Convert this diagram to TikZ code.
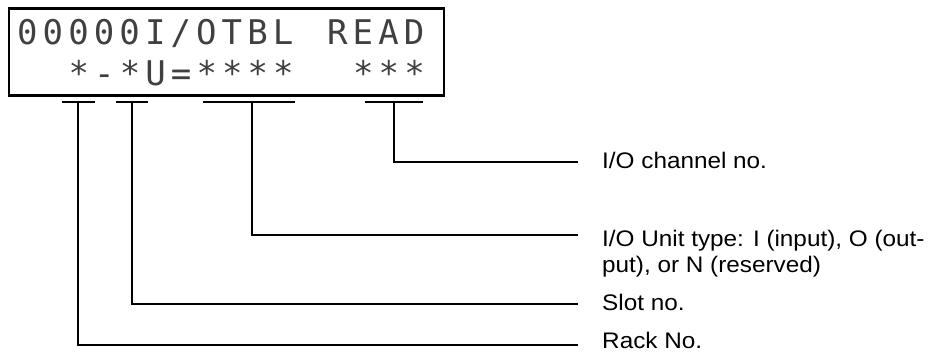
\documentclass[tikz,border=0pt]{standalone}
\usepackage{fontspec}
\setmainfont{Liberation Sans}
\newfontfamily\lblfont[FakeStretch=1.08]{Liberation Sans}
\newfontfamily\lcdfont[LetterSpace=15]{DejaVu Sans Mono}
\usetikzlibrary{positioning}

\begin{document}
\begin{tikzpicture}[
    x=1pt, y=-1pt,
    panel/.style={rectangle, draw=black, line width=2.5pt, minimum width=435pt,
                  minimum height=87pt, inner sep=0pt},
    lcd/.style={anchor=base west, inner sep=0pt, color=black!75,
                font=\lcdfont\fontsize{34}{34}\selectfont},
    bar/.style={line width=2pt},
    lead/.style={line width=2pt},
    lbl/.style={anchor=base west, inner sep=0pt, align=left,
                font=\lblfont\fontsize{22.5}{26}\selectfont}
]
\useasboundingbox (0,0) rectangle (931,353);

% --- Display panel ---
\node[panel] (display) at (226.5,52) {};
\node[lcd] (rowAleft) at (17,45) {00000I/OTBL};
\node[lcd] (rowAright) at (327,45) {READ};
\node[lcd] (rowBleft) at (68.5,85) {*-*U=****};
\node[lcd] (rowBright) at (353,85) {***};

% --- Brackets under the display ---
\coordinate (rack) at (78,102);
\coordinate (slot) at (132,102);
\coordinate (unit) at (252,102);
\coordinate (chan) at (394,102);
\draw[bar] (62,102) -- (95,102);
\draw[bar] (116,102) -- (148,102);
\draw[bar] (203,102) -- (295,102);
\draw[bar] (365,102) -- (423,102);

% --- Leader ends ---
\coordinate (chanend) at (578,162);
\coordinate (unitend) at (578,235);
\coordinate (slotend) at (578,304);
\coordinate (rackend) at (578,345);

\draw[lead] (chan) |- (chanend);
\draw[lead] (unit) |- (unitend);
\draw[lead] (slot) |- (slotend);
\draw[lead] (rack) |- (rackend);

% --- Labels ---
\node[lbl] (chantxt) at (602,168) {I/O channel no.};
% base anchor of a two-line node sits on its last line
\node[lbl] (unittxt) at (602,272) {I/O Unit type: I (input), O (out-\\put), or N (reserved)};
\node[lbl] (slottxt) at (602,310) {Slot no.};
\node[lbl] (racktxt) at (602,348) {Rack No.};

\end{tikzpicture}
\end{document}
